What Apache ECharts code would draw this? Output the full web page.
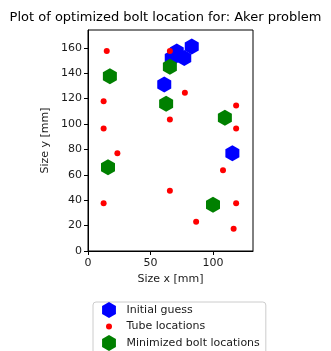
<!DOCTYPE html>
<html>
<head>
<meta charset="utf-8">
<script src="https://cdn.jsdelivr.net/npm/echarts@6/dist/echarts.min.js"></script>
<style>
  html, body { margin: 0; padding: 0; background: #fff; }
  #chart { width: 331px; height: 351px; }
</style>
</head>
<body>
<div id="chart"></div>
<script>
// values
const initialGuess = [
  [61, 131], [67, 152], [71, 157], [77, 152], [83, 161], [115.5, 77]
];
const tubeLocations = [
  [15, 157.5], [65.5, 157.5], [12.5, 118], [12.5, 96.5], [77.5, 124.5],
  [65.5, 103.5], [118.5, 114.5], [118.5, 96.5], [23.5, 77], [12.5, 37.5],
  [65.5, 47.5], [108, 63.5], [86.5, 23], [118.5, 37.5], [116.5, 17.5]
];
const minimizedBolts = [
  [17.5, 137.5], [65.5, 145], [62.5, 116], [109.5, 105], [16, 66], [100, 36.5]
];
const xTicks = [0, 50, 100];
const yTicks = [0, 20, 40, 60, 80, 100, 120, 140, 160];

// pointy-top hexagon like matplotlib 'h'
const hexagon = "path://M0,-1 L0.866,-0.5 L0.866,0.5 L0,1 L-0.866,0.5 L-0.866,-0.5 Z";
// small dot inside a 16x16 box, so the legend keeps it small
const smallDot = "path://M0,0 M16,0 M0,16 M16,16 M8,5 A3,3 0 1,1 8,11 A3,3 0 1,1 8,5 Z";

const font = "DejaVu Sans";
const txt = "#1a1a1a";

const chart = echarts.init(document.getElementById("chart"));
chart.setOption({
  animation: false,
  title: {
    text: "Plot of optimized bolt location for: Aker problem",
    left: "center",
    top: 6,
    textStyle: { fontFamily: font, fontSize: 13, fontWeight: "normal", color: "#000" }
  },
  grid: {
    left: 88, top: 30, width: 165, height: 221,
    show: true, borderColor: "#000", borderWidth: 1
  },
  xAxis: {
    type: "value",
    min: 0, max: 132,
    name: "Size x [mm]",
    nameLocation: "middle",
    nameGap: 21,
    nameTextStyle: { fontFamily: font, fontSize: 11, color: txt },
    axisLine: { show: true, lineStyle: { color: "#000" } },
    axisTick: { show: true, inside: false, length: 4, lineStyle: { color: "#000" }, customValues: xTicks },
    axisLabel: { fontFamily: font, fontSize: 11, color: txt, margin: 7, customValues: xTicks },
    splitLine: { show: false }
  },
  yAxis: {
    type: "value",
    min: 0, max: 174,
    name: "Size y [mm]",
    nameLocation: "middle",
    nameGap: 37,
    nameTextStyle: { fontFamily: font, fontSize: 11, color: txt },
    axisLine: { show: true, lineStyle: { color: "#000" } },
    axisTick: { show: true, inside: false, length: 4, lineStyle: { color: "#000" }, customValues: yTicks },
    axisLabel: { fontFamily: font, fontSize: 11, color: txt, margin: 6, customValues: yTicks },
    splitLine: { show: false }
  },
  legend: {
    orient: "vertical",
    left: 93,
    top: 302,
    height: 80,
    padding: [0, 6, 4, 8],
    itemWidth: 25,
    itemHeight: 16,
    itemGap: 0.5,
    symbolKeepAspect: true,
    borderColor: "#cccccc",
    borderWidth: 1,
    borderRadius: 3,
    textStyle: { fontFamily: font, fontSize: 11, color: txt },
    data: [
      { name: "Initial guess", icon: hexagon },
      { name: "Tube locations", icon: smallDot },
      { name: "Minimized bolt locations", icon: hexagon }
    ]
  },
  series: [
    {
      name: "Initial guess",
      type: "scatter",
      symbol: hexagon,
      symbolSize: [14, 16],
      itemStyle: { color: "#0000ff", opacity: 1 },
      z: 1,
      data: initialGuess
    },
    {
      name: "Tube locations",
      type: "scatter",
      symbol: "circle",
      symbolSize: 6,
      itemStyle: { color: "#ff0000", opacity: 1 },
      z: 2,
      data: tubeLocations
    },
    {
      name: "Minimized bolt locations",
      type: "scatter",
      symbol: hexagon,
      symbolSize: [14, 16],
      itemStyle: { color: "#008000", opacity: 1 },
      z: 3,
      data: minimizedBolts
    }
  ]
});
</script>
</body>
</html>
